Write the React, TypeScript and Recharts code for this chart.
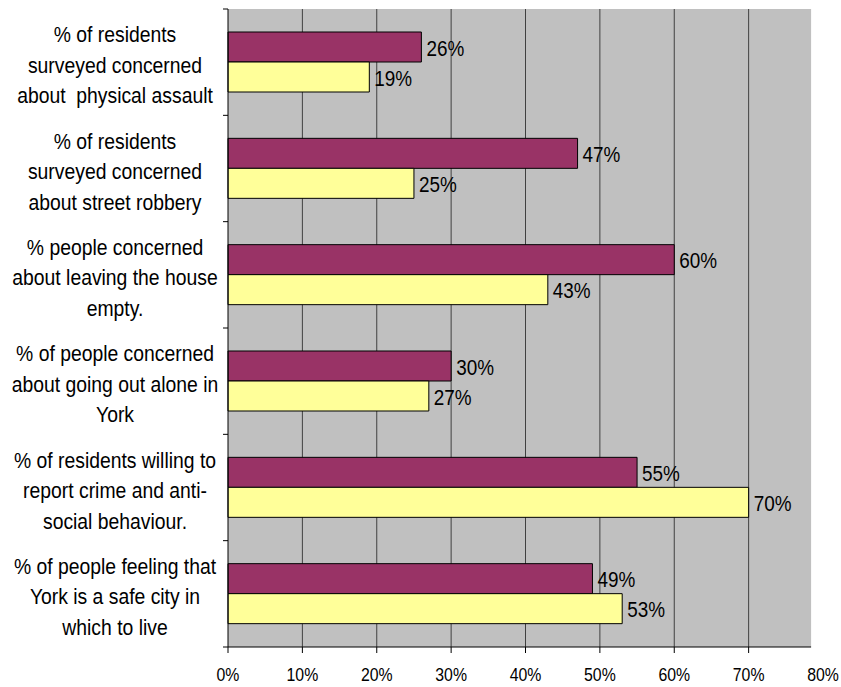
import {
  Bar,
  BarChart,
  CartesianGrid,
  LabelList,
  ReferenceArea,
  XAxis,
  YAxis,
} from "recharts";

const categories = [
  ["% of residents", "surveyed concerned", "about  physical assault"],
  ["% of residents", "surveyed concerned", "about street robbery"],
  ["% people concerned", "about leaving the house", "empty."],
  ["% of people concerned", "about going out alone in", "York"],
  ["% of residents willing to", "report crime and anti-", "social behaviour."],
  ["% of people feeling that", "York is a safe city in", "which to live"],
];
const seriesA = [26, 47, 60, 30, 55, 49];
const seriesB = [19, 25, 43, 27, 70, 53];
const xTicks = [0, 10, 20, 30, 40, 50, 60, 70, 80];

const W = 841;
const H = 687;
const margin = { top: 9, right: 18, bottom: 0, left: 0 };
const yAxisWidth = 228;
const xAxisHeight = 40;
const plotWidth = W - margin.right - yAxisWidth;
const plotHeight = H - margin.top - xAxisHeight;
const band = plotHeight / categories.length;
// the grey plot area stops a little short of the 80% tick
const plotEdge = 78.4;
const font = '"Liberation Sans", Arial, sans-serif';

const data = categories.map((lines, i) => ({
  name: lines.join(" "),
  a: seriesA[i],
  b: seriesB[i],
}));

// the source text is a little narrow, so squeeze it horizontally
function NarrowText({ x, y, size, sx, anchor = "middle", children }: any) {
  return (
    <text
      transform={`translate(${x},${y}) scale(${sx},1)`}
      textAnchor={anchor}
      fontSize={size}
      fontFamily={font}
      fill="#000"
      style={{ whiteSpace: "pre" }}
    >
      {children}
    </text>
  );
}

function YTick({ x, y, index }: any) {
  const lines = categories[index] ?? [];
  return (
    <g>
      <line x1={x + 3} x2={x + 8} y1={y - band / 2} y2={y - band / 2} stroke="#000" />
      {index === categories.length - 1 && (
        <line x1={x + 3} x2={x + 8} y1={y + band / 2} y2={y + band / 2} stroke="#000" />
      )}
      {lines.map((l, i) => (
        <NarrowText key={i} x={x - 105} y={y - 20 + i * 30.5} size={21.5} sx={0.9}>
          {l}
        </NarrowText>
      ))}
    </g>
  );
}

function XTick({ x, y, payload }: any) {
  const v = payload.value;
  const step = plotWidth / (xTicks.length - 1);
  const seg = step * Math.min(1, (plotEdge - v) / 10);
  return (
    <g>
      {v < plotEdge && (
        <>
          <line x1={x} x2={x} y1={y - 8} y2={y - 2} stroke="#000" />
          <line x1={x} x2={x + seg} y1={y - 8} y2={y - 8} stroke="#000" />
        </>
      )}
      <NarrowText x={x} y={y + 26} size={18} sx={0.88}>
        {`${v}%`}
      </NarrowText>
    </g>
  );
}

function BarLabel({ x, y, width, height, value }: any) {
  return (
    <NarrowText x={x + width + 5} y={y + height / 2 + 8.5} size={22} sx={0.86} anchor="start">
      {`${value}%`}
    </NarrowText>
  );
}

export default function App() {
  return (
    <div style={{ position: "absolute", left: 0, top: 0, width: W, height: H, background: "#fff" }}>
      <BarChart
        width={W}
        height={H}
        data={data}
        layout="vertical"
        margin={margin}
        barGap={0}
      >
        <ReferenceArea
          x1={0}
          x2={plotEdge}
          fill="#C0C0C0"
          fillOpacity={1}
          stroke="none"
          zIndex={-200}
        />
        <CartesianGrid
          horizontal={false}
          stroke="#404040"
          strokeWidth={1}
          verticalCoordinatesGenerator={({ offset }: any) =>
            xTicks
              .filter((t) => t > 0 && t < plotEdge)
              .map((t) => offset.left + (offset.width * t) / 80)
          }
        />
        <XAxis
          type="number"
          domain={[0, 80]}
          ticks={xTicks}
          height={xAxisHeight}
          axisLine={false}
          tickLine={false}
          tick={<XTick />}
          interval={0}
        />
        <YAxis
          type="category"
          dataKey="name"
          width={yAxisWidth}
          axisLine={{ stroke: "#000" }}
          tickLine={false}
          tick={<YTick />}
          interval={0}
        />
        <Bar dataKey="a" fill="#993366" stroke="#000" barSize={30} isAnimationActive={false}>
          <LabelList dataKey="a" content={<BarLabel />} />
        </Bar>
        <Bar dataKey="b" fill="#FFFF99" stroke="#000" barSize={30} isAnimationActive={false}>
          <LabelList dataKey="b" content={<BarLabel />} />
        </Bar>
      </BarChart>
    </div>
  );
}
